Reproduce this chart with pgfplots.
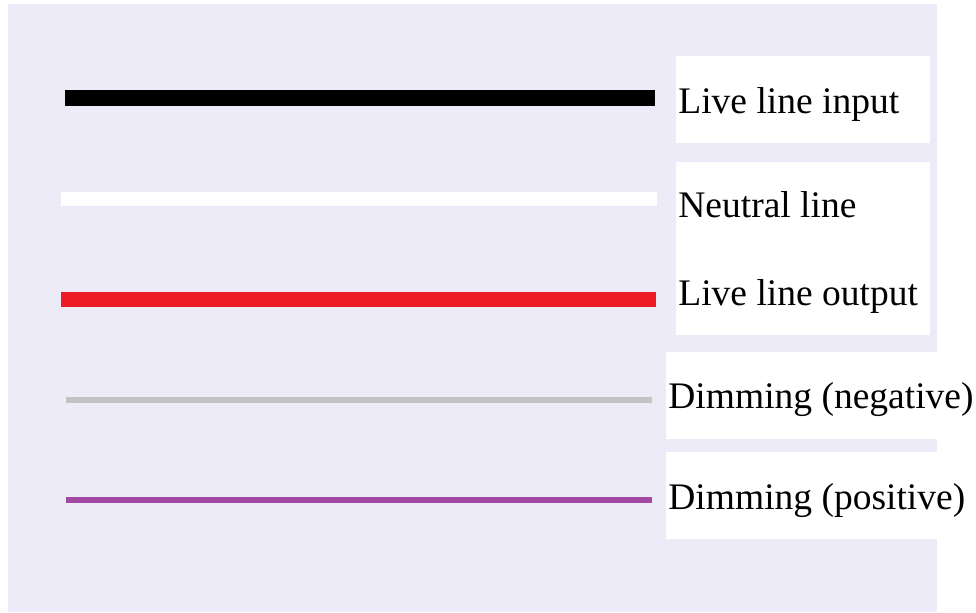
\documentclass[border=0pt]{standalone}
\usepackage{fontspec}
\setmainfont{Liberation Serif}
\usepackage{pgfplots}
\pgfplotsset{compat=1.18}
\definecolor{lav}{RGB}{237,235,247}
\definecolor{myred}{RGB}{237,28,36}
\definecolor{mygray}{RGB}{195,195,195}
\definecolor{mypurple}{RGB}{163,73,164}
\begin{document}
\begin{tikzpicture}
\begin{axis}[
  scale only axis,
  width=464.5bp, height=304bp,
  xmin=8, xmax=937, ymin=4, ymax=612,
  y dir=reverse,
  axis lines=none, ticks=none,
  axis background/.style={fill=lav},
  clip=false,
]
\path (axis cs:0,0) rectangle (axis cs:976,613);
\fill[white] (axis cs:676,56) rectangle (axis cs:930,143);
\fill[white] (axis cs:676,162) rectangle (axis cs:930,335);
\fill[white] (axis cs:666,352) rectangle (axis cs:937,439);
\fill[white] (axis cs:666,452) rectangle (axis cs:937,539);
\addplot[black, line width=8bp, line cap=butt] coordinates {(65,98) (655,98)};
\addplot[white, line width=7bp, line cap=butt] coordinates {(61,199) (657,199)};
\addplot[myred, line width=7.5bp, line cap=butt] coordinates {(61,299) (656,299)};
\addplot[mygray, line width=2.75bp, line cap=butt] coordinates {(66,400) (652,400)};
\addplot[mypurple, line width=2.75bp, line cap=butt] coordinates {(66,500) (652,500)};
\begin{scope}[every node/.style={anchor=base west, inner sep=0pt, font=\fontsize{18.75bp}{22bp}\selectfont}]
\node at (axis cs:678,113) {Live line input};
\node at (axis cs:678,217) {Neutral line};
\node at (axis cs:678,305) {Live line output};
\node at (axis cs:668,408) {Dimming (negative)};
\node at (axis cs:668,509) {Dimming (positive)};
\end{scope}
\end{axis}
\end{tikzpicture}
\end{document}
